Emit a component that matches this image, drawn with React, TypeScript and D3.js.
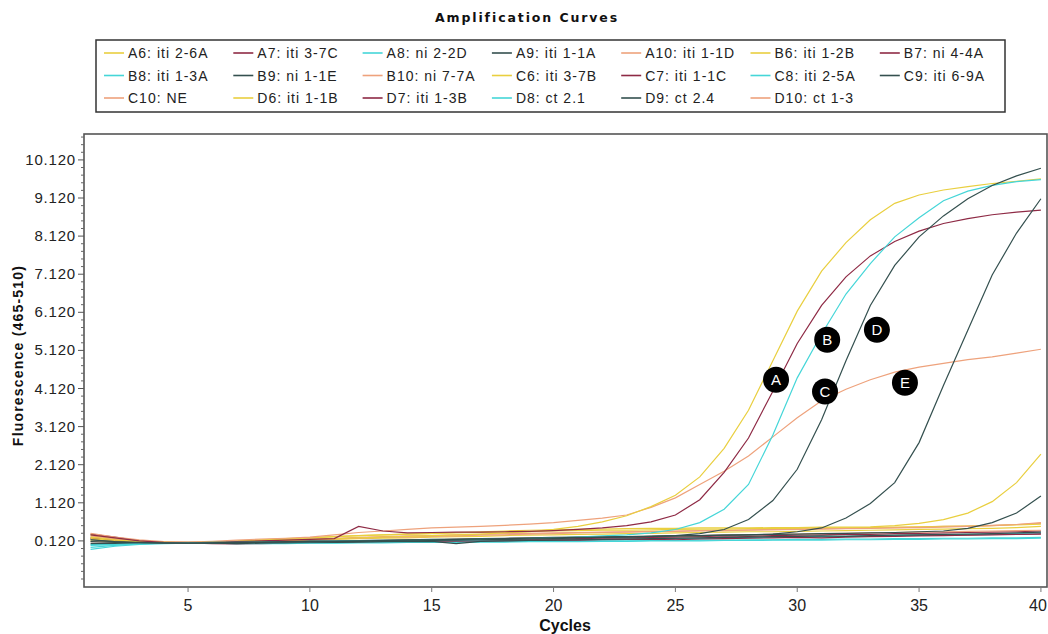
import React from "react";
import * as d3 from "d3";

const cycles = d3.range(1, 41);

const seriesNames = [
  "A6: iti 2-6A", "A7: iti 3-7C", "A8: ni 2-2D", "A9: iti 1-1A", "A10: iti 1-1D", "B6: iti 1-2B", "B7: ni 4-4A",
  "B8: iti 1-3A", "B9: ni 1-1E", "B10: ni 7-7A", "C6: iti 3-7B", "C7: iti 1-1C", "C8: iti 2-5A", "C9: iti 6-9A",
  "C10: NE", "D6: iti 1-1B", "D7: iti 1-3B", "D8: ct 2.1", "D9: ct 2.4", "D10: ct 1-3",
];

const palette = ["#e9cf3f", "#8e2a45", "#45d6d8", "#34504f", "#eea27c"];

const A6 = [0.22,0.15,0.1,0.08,0.07,0.09,0.1,0.12,0.14,0.16,0.18,0.2,0.22,0.24,0.26,0.28,0.3,0.33,0.36,0.42,0.5,0.62,0.78,1.02,1.32,1.8,2.55,3.55,4.85,6.15,7.2,7.95,8.55,8.98,9.2,9.33,9.42,9.5,9.56,9.62];
const A7 = [0.28,0.2,0.12,0.08,0.07,0.08,0.1,0.12,0.14,0.16,0.18,0.5,0.38,0.33,0.34,0.35,0.35,0.36,0.37,0.39,0.42,0.46,0.52,0.62,0.8,1.2,1.92,2.82,4.05,5.3,6.3,7.05,7.6,7.98,8.25,8.45,8.58,8.68,8.75,8.8];
const A8 = [0.0,0.02,0.05,0.06,0.07,0.08,0.08,0.09,0.1,0.1,0.11,0.12,0.13,0.13,0.14,0.15,0.16,0.17,0.18,0.2,0.22,0.25,0.28,0.33,0.42,0.6,0.95,1.6,2.9,4.4,5.55,6.6,7.4,8.1,8.6,9.05,9.3,9.45,9.55,9.6];
const A9 = [0.1,0.08,0.07,0.06,0.06,0.07,0.08,0.08,0.09,0.1,0.1,0.11,0.12,0.12,0.13,0.14,0.15,0.16,0.17,0.18,0.2,0.21,0.22,0.24,0.26,0.31,0.42,0.68,1.18,2.0,3.3,4.85,6.3,7.35,8.1,8.65,9.1,9.45,9.7,9.9];
const A10 = [0.32,0.22,0.15,0.1,0.09,0.11,0.14,0.17,0.19,0.22,0.28,0.34,0.38,0.42,0.46,0.48,0.5,0.53,0.56,0.6,0.66,0.72,0.8,1.0,1.25,1.6,1.95,2.35,2.85,3.35,3.8,4.1,4.35,4.55,4.68,4.78,4.88,4.95,5.05,5.15];
const B6 = [0.18,0.13,0.1,0.08,0.07,0.09,0.12,0.15,0.18,0.2,0.23,0.26,0.28,0.3,0.32,0.34,0.36,0.38,0.4,0.41,0.42,0.43,0.44,0.45,0.45,0.46,0.46,0.46,0.47,0.47,0.48,0.48,0.49,0.52,0.58,0.68,0.85,1.15,1.65,2.4];
const B7 = [0.3,0.22,0.12,0.08,0.07,0.06,0.07,0.08,0.08,0.09,0.1,0.1,0.11,0.12,0.12,0.13,0.14,0.15,0.16,0.17,0.18,0.19,0.2,0.21,0.22,0.23,0.25,0.24,0.26,0.27,0.28,0.3,0.29,0.31,0.32,0.33,0.34,0.35,0.36,0.38];
const B8 = [0.02,0.03,0.06,0.07,0.08,0.08,0.07,0.06,0.06,0.07,0.07,0.08,0.08,0.09,0.09,0.1,0.1,0.1,0.11,0.11,0.12,0.12,0.12,0.13,0.13,0.14,0.14,0.15,0.15,0.16,0.16,0.17,0.17,0.18,0.18,0.19,0.19,0.2,0.2,0.21];
const B9 = [0.15,0.1,0.08,0.07,0.06,0.07,0.08,0.09,0.1,0.1,0.11,0.12,0.13,0.14,0.15,0.16,0.17,0.18,0.19,0.2,0.21,0.22,0.23,0.24,0.25,0.26,0.27,0.28,0.3,0.36,0.46,0.72,1.1,1.65,2.7,4.2,5.65,7.1,8.2,9.1];
const B10 = [0.25,0.18,0.12,0.09,0.08,0.09,0.11,0.13,0.15,0.17,0.19,0.21,0.23,0.25,0.26,0.28,0.29,0.31,0.32,0.33,0.34,0.35,0.36,0.37,0.38,0.39,0.4,0.41,0.42,0.43,0.44,0.45,0.46,0.47,0.48,0.5,0.51,0.53,0.55,0.58];
const C6 = [0.12,0.1,0.09,0.08,0.07,0.08,0.1,0.12,0.13,0.15,0.16,0.18,0.19,0.2,0.22,0.23,0.24,0.26,0.27,0.28,0.29,0.3,0.31,0.32,0.33,0.34,0.35,0.36,0.36,0.37,0.38,0.39,0.4,0.41,0.42,0.43,0.44,0.45,0.47,0.5];
const C7 = [0.2,0.15,0.1,0.08,0.07,0.06,0.06,0.07,0.08,0.08,0.09,0.1,0.1,0.11,0.11,0.12,0.12,0.13,0.14,0.15,0.15,0.16,0.17,0.17,0.18,0.19,0.2,0.21,0.22,0.22,0.23,0.24,0.25,0.26,0.27,0.28,0.28,0.29,0.3,0.31];
const C8 = [-0.05,0.0,0.04,0.06,0.07,0.07,0.07,0.08,0.08,0.09,0.09,0.1,0.1,0.11,0.11,0.12,0.12,0.13,0.13,0.14,0.14,0.15,0.16,0.16,0.17,0.18,0.19,0.2,0.21,0.22,0.23,0.24,0.25,0.26,0.27,0.28,0.29,0.3,0.31,0.33];
const C9 = [0.05,0.05,0.06,0.07,0.07,0.08,0.09,0.1,0.11,0.12,0.12,0.13,0.14,0.15,0.16,0.17,0.18,0.19,0.2,0.21,0.22,0.22,0.23,0.24,0.25,0.26,0.27,0.28,0.29,0.3,0.31,0.32,0.33,0.34,0.36,0.38,0.45,0.6,0.85,1.3];
const C10 = [0.1,0.09,0.08,0.08,0.07,0.07,0.08,0.08,0.09,0.1,0.11,0.12,0.13,0.14,0.15,0.16,0.17,0.18,0.19,0.2,0.21,0.22,0.23,0.24,0.25,0.26,0.27,0.28,0.29,0.3,0.31,0.32,0.33,0.34,0.35,0.36,0.37,0.38,0.39,0.4];
const D6 = [0.28,0.2,0.12,0.09,0.08,0.09,0.11,0.14,0.17,0.2,0.23,0.26,0.28,0.3,0.31,0.33,0.34,0.35,0.36,0.38,0.39,0.4,0.4,0.41,0.42,0.43,0.43,0.44,0.44,0.45,0.46,0.46,0.47,0.48,0.49,0.5,0.51,0.52,0.54,0.56];
const D7 = [0.18,0.13,0.1,0.08,0.07,0.05,0.04,0.05,0.06,0.07,0.08,0.09,0.1,0.1,0.1,0.11,0.11,0.12,0.13,0.14,0.14,0.15,0.16,0.16,0.15,0.17,0.18,0.19,0.2,0.21,0.2,0.22,0.23,0.24,0.25,0.26,0.27,0.28,0.29,0.3];
const D8 = [-0.1,-0.02,0.03,0.05,0.06,0.06,0.05,0.05,0.05,0.06,0.06,0.07,0.07,0.08,0.08,0.08,0.09,0.09,0.1,0.1,0.1,0.11,0.11,0.12,0.12,0.12,0.13,0.13,0.14,0.14,0.14,0.15,0.15,0.16,0.16,0.17,0.17,0.18,0.18,0.19];
const D9 = [0.15,0.1,0.07,0.06,0.06,0.06,0.05,0.06,0.07,0.08,0.08,0.09,0.1,0.1,0.11,0.05,0.11,0.12,0.13,0.14,0.15,0.16,0.17,0.18,0.19,0.2,0.21,0.22,0.23,0.24,0.25,0.24,0.26,0.27,0.28,0.29,0.3,0.31,0.33,0.35];
const D10 = [0.22,0.16,0.11,0.09,0.08,0.09,0.1,0.12,0.13,0.15,0.17,0.19,0.21,0.22,0.24,0.25,0.27,0.28,0.3,0.31,0.33,0.34,0.35,0.36,0.37,0.38,0.39,0.4,0.41,0.42,0.43,0.44,0.45,0.46,0.47,0.48,0.5,0.52,0.55,0.6];

const seriesValues = [A6, A7, A8, A9, A10, B6, B7, B8, B9, B10, C6, C7, C8, C9, C10, D6, D7, D8, D9, D10];

const yTickValues = [0.12, 1.12, 2.12, 3.12, 4.12, 5.12, 6.12, 7.12, 8.12, 9.12, 10.12];
const xTickValues = [5, 10, 15, 20, 25, 30, 35, 40];

const annotations = [
  { label: "A", cycle: 29.13, value: 4.35 },
  { label: "B", cycle: 31.23, value: 5.4 },
  { label: "C", cycle: 31.14, value: 4.04 },
  { label: "D", cycle: 33.27, value: 5.66 },
  { label: "E", cycle: 34.42, value: 4.27 },
];

const W = 1048, H = 634;
const plot = { left: 84, right: 1047, top: 134, bottom: 587 };

export default function App() {
  const x = d3.scaleLinear().domain([0.73, 40.25]).range([plot.left, plot.right]);
  const y = d3.scaleLinear().domain([-1.09, 10.8]).range([plot.bottom, plot.top]);
  const line = d3.line<number>().x((_, i) => x(cycles[i])).y((v) => y(v));
  const minorTicks = d3.range(-0.88, 10.8, 0.2).filter((t) => !yTickValues.some((m) => Math.abs(m - t) < 1e-6));

  const order = [6, 7, 9, 10, 11, 12, 14, 15, 16, 17, 18, 19, 13, 5, 4, 0, 1, 2, 3, 8];

  const legendCols = 7;
  const legendX0 = 104, legendColW = 129.3, legendY0 = 53, legendRowH = 22.5;
  const narrow = "'Liberation Sans Narrow', 'Arial Narrow', 'Liberation Sans', sans-serif";

  return (
    <svg width={W} height={H} style={{ position: "absolute", left: 0, top: 0, background: "#fff" }}
      fontFamily="'Liberation Sans', Arial, sans-serif">
      <defs>
        <clipPath id="plotclip">
          <rect x={plot.left} y={plot.top} width={plot.right - plot.left} height={plot.bottom - plot.top} />
        </clipPath>
      </defs>
      <rect x={0} y={0} width={W} height={H} fill="#fff" />
      <text x={527} y={22} textAnchor="middle" fontFamily="'DejaVu Sans', sans-serif" fontWeight="bold"
        fontSize={12.5} letterSpacing={1.9} fill="#111">Amplification Curves</text>

      <rect x={96} y={40} width={909} height={72} fill="#fff" stroke="#333" strokeWidth={1.5} />
      {seriesNames.map((name, i) => {
        const col = i % legendCols, row = Math.floor(i / legendCols);
        const lx = legendX0 + col * legendColW, ly = legendY0 + row * legendRowH;
        return (
          <g key={name}>
            <line x1={lx} x2={lx + 20} y1={ly} y2={ly} stroke={palette[i % 5]} strokeWidth={1.6} />
            <text x={lx + 24} y={ly + 5} fontSize={14} letterSpacing={1} fill="#222">{name}</text>
          </g>
        );
      })}

      <g clipPath="url(#plotclip)">
        {order.map((i) => (
          <path key={i} d={line(seriesValues[i]) || ""} fill="none" stroke={palette[i % 5]} strokeWidth={1.2} />
        ))}
      </g>

      <rect x={plot.left} y={plot.top} width={plot.right - plot.left} height={plot.bottom - plot.top}
        fill="none" stroke="#555" strokeWidth={1.6} />

      {minorTicks.map((t) => (
        <line key={"m" + t} x1={plot.left - 3} x2={plot.left} y1={y(t)} y2={y(t)} stroke="#666" strokeWidth={1} />
      ))}
      {yTickValues.map((t) => (
        <g key={"y" + t}>
          <line x1={plot.left - 6} x2={plot.left} y1={y(t)} y2={y(t)} stroke="#555" strokeWidth={1} />
          <text x={plot.left - 8} y={y(t) + 5} textAnchor="end" fontSize={15} letterSpacing={0.8} fill="#222">
            {d3.format(".3f")(t)}
          </text>
        </g>
      ))}
      <text transform={`translate(23,${(plot.top + plot.bottom) / 2 - 5}) rotate(-90)`} textAnchor="middle"
        fontSize={14} fontWeight="bold" letterSpacing={1.2} fill="#111">Fluorescence (465-510)</text>

      {xTickValues.map((t) => (
        <g key={"x" + t}>
          <line x1={x(t)} x2={x(t)} y1={plot.bottom} y2={plot.bottom + 5} stroke="#777" strokeWidth={1} />
          <text x={Math.min(x(t), 1038)} y={plot.bottom + 24} textAnchor="middle" fontSize={16}
            fontFamily={narrow} fill="#222">{t}</text>
        </g>
      ))}
      <text x={565} y={631} textAnchor="middle" fontSize={16} fontWeight="bold"
        fontFamily={narrow} fill="#111">Cycles</text>

      {annotations.map((a) => (
        <g key={a.label}>
          <circle cx={x(a.cycle)} cy={y(a.value)} r={13} fill="#000" />
          <text x={x(a.cycle)} y={y(a.value) + 5.5} textAnchor="middle" fontSize={15} fill="#fff">{a.label}</text>
        </g>
      ))}
    </svg>
  );
}
